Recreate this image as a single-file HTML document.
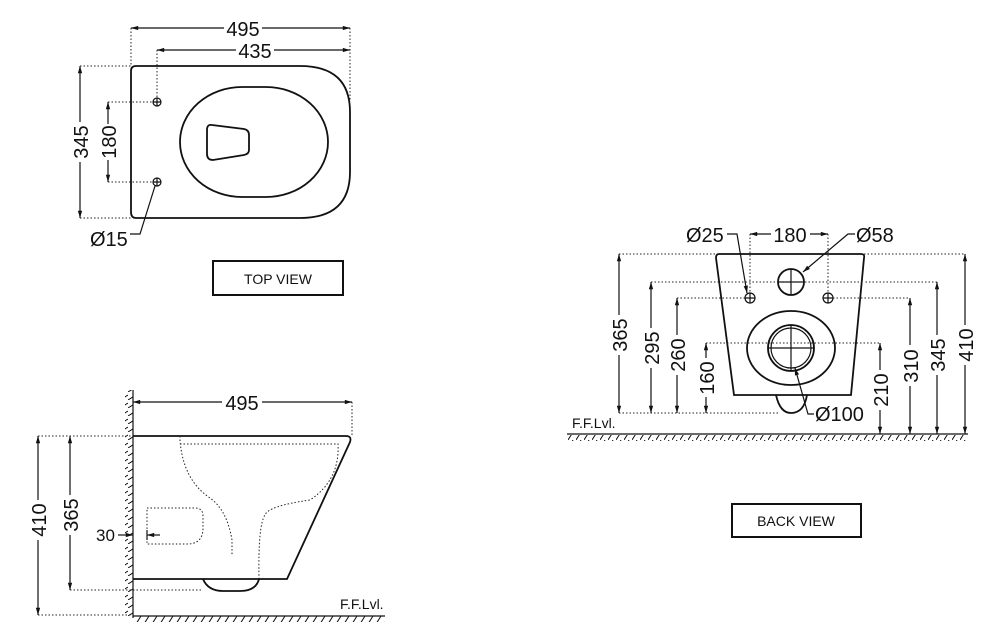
<!DOCTYPE html>
<html><head><meta charset="utf-8"><style>
html,body{margin:0;padding:0;background:#fff;}
svg{display:block;}
text{font-family:"Liberation Sans",sans-serif;fill:#111;}
.d{stroke:#222;stroke-width:1;stroke-dasharray:1.5 2;fill:none;}
.l{stroke:#111;stroke-width:1.2;fill:none;}
.o{stroke:#111;stroke-width:1.8;fill:none;}
.n{font-size:20px;}
</style></head><body>
<svg width="1000" height="631" viewBox="0 0 1000 631" xmlns="http://www.w3.org/2000/svg">
<defs>
<marker id="a" viewBox="0 0 10 10" refX="10" refY="5" markerWidth="8" markerHeight="6" orient="auto-start-reverse"><path d="M0,2 L10,5 L0,8z" fill="#111"/></marker>
<pattern id="hf" width="8" height="8" patternUnits="userSpaceOnUse"><path d="M0,8 L5,0" stroke="#111" stroke-width="1"/></pattern>
<pattern id="hw" width="8" height="8" patternUnits="userSpaceOnUse"><path d="M0,8 L8,3" stroke="#111" stroke-width="1"/></pattern>
</defs>

<!-- TOP VIEW -->
<path class="o" d="M136,66 H300 Q350,66 350,112 V172 Q350,218 300,218 H136 Q131,218 131,212 V71 Q131,66 136,66Z"/>
<rect class="o" x="180" y="87" width="148" height="110" rx="62" ry="55"/>
<path class="o" d="M212,125 L244,129 Q249,130 249,135 V150 Q249,154 244,155 L213,160 Q207,160 207,154 V130 Q207,124 212,125Z"/>
<circle class="l" cx="157" cy="102" r="4"/><path class="l" d="M153,102h8M157,98v8"/>
<circle class="l" cx="157" cy="182" r="4"/><path class="l" d="M153,182h8M157,178v8"/>
<path class="d" d="M131,28V66M350,28V100M157,50V98M80,66H131M80,218H131M108,102H153M108,182H153"/>
<path class="l" d="M131,28H224M262,28H350" marker-start="url(#a)" marker-end="url(#a)"/>
<text class="n" x="243" y="36" text-anchor="middle">495</text>
<path class="l" d="M157,50H236M274,50H350" marker-start="url(#a)" marker-end="url(#a)"/>
<text class="n" x="255" y="58" text-anchor="middle">435</text>
<path class="l" d="M80,66V122M80,162V218" marker-start="url(#a)" marker-end="url(#a)"/>
<text class="n" transform="translate(88,142) rotate(-90)" text-anchor="middle">345</text>
<path class="l" d="M108,102V124M108,160V182" marker-start="url(#a)" marker-end="url(#a)"/>
<text class="n" transform="translate(116,142) rotate(-90)" text-anchor="middle">180</text>
<path class="l" d="M155,186L140,234H130"/>
<text class="n" x="90" y="246">Ø15</text>
<rect x="213" y="261" width="130" height="34" fill="none" stroke="#111" stroke-width="2"/>
<text x="278" y="284" font-size="14" text-anchor="middle">TOP VIEW</text>

<!-- SIDE VIEW -->
<rect x="125" y="390" width="8" height="228" fill="url(#hw)"/>
<path class="l" d="M133,390V618"/>
<rect x="133" y="616" width="252" height="6" fill="url(#hf)"/>
<path class="l" d="M133,616H385"/>
<path class="o" d="M133,436H346Q352,436 350,442L287,579H133"/>
<path class="o" d="M203,579Q208,591 223,591H240Q256,591 259,579"/>
<path class="d" d="M180,436V440Q183,480 210,498Q227,510 232,540V556"/>
<path class="d" d="M180,444H338Q340,480 310,500Q268,506 265,515Q258,525 259,579"/>
<path class="d" d="M147,508H195Q203,508 203,516V528Q203,545 185,544H147V508"/>
<path class="d" d="M352,402V436M38,436H133M70,590H203M38,615H133"/>
<path class="l" d="M133,402H222M262,402H352" marker-start="url(#a)" marker-end="url(#a)"/>
<text class="n" x="242" y="410" text-anchor="middle">495</text>
<path class="l" d="M38,436V500M38,540V615" marker-start="url(#a)" marker-end="url(#a)"/>
<text class="n" transform="translate(46,520) rotate(-90)" text-anchor="middle">410</text>
<path class="l" d="M70,436V495M70,535V590" marker-start="url(#a)" marker-end="url(#a)"/>
<text class="n" transform="translate(78,515) rotate(-90)" text-anchor="middle">365</text>
<text x="96" y="541" font-size="17">30</text>
<path class="l" d="M118,535H133" marker-end="url(#a)"/>
<path class="l" d="M160,535H147" marker-end="url(#a)"/>
<path class="l" d="M147,530V540"/>
<text x="340" y="609" font-size="14">F.F.Lvl.</text>

<!-- BACK VIEW -->
<path class="o" d="M719,254H861Q865,254 864,258L851,395H734L716,258Q716,254 719,254Z"/>
<path class="o" d="M776,395Q780,413 791,413Q804,413 807,395"/>
<circle class="o" cx="791" cy="282" r="13"/><path class="l" d="M778,282h26M791,269v26"/>
<circle class="l" cx="750" cy="298" r="5"/><path class="l" d="M745,298h10M750,293v10"/>
<circle class="l" cx="828" cy="298" r="5"/><path class="l" d="M823,298h10M828,293v10"/>
<ellipse class="o" cx="791" cy="348" rx="44" ry="37"/>
<circle class="o" cx="791" cy="348" r="23"/><circle class="l" cx="791" cy="348" r="20"/>
<path class="l" d="M768,348h46M791,325v46"/>
<rect x="567" y="435" width="401" height="6" fill="url(#hf)"/>
<path class="l" d="M567,434H968"/>
<text x="572" y="428" font-size="14">F.F.Lvl.</text>
<path class="d" d="M619,254H716M864,254H965M651,282H864M937,282H864M677,298H745M833,298H910M706,343H880M619,413H780M750,234V293M828,234V293"/>
<path class="l" d="M619,254V315M619,355V413" marker-start="url(#a)" marker-end="url(#a)"/>
<text class="n" transform="translate(627,335) rotate(-90)" text-anchor="middle">365</text>
<path class="l" d="M651,282V328M651,368V413" marker-start="url(#a)" marker-end="url(#a)"/>
<text class="n" transform="translate(659,348) rotate(-90)" text-anchor="middle">295</text>
<path class="l" d="M677,298V335M677,375V413" marker-start="url(#a)" marker-end="url(#a)"/>
<text class="n" transform="translate(685,355) rotate(-90)" text-anchor="middle">260</text>
<path class="l" d="M706,343V358M706,397V413" marker-start="url(#a)" marker-end="url(#a)"/>
<text class="n" transform="translate(714,378) rotate(-90)" text-anchor="middle">160</text>
<path class="l" d="M880,343V370M880,410V434" marker-start="url(#a)" marker-end="url(#a)"/>
<text class="n" transform="translate(888,390) rotate(-90)" text-anchor="middle">210</text>
<path class="l" d="M910,298V345M910,386V434" marker-start="url(#a)" marker-end="url(#a)"/>
<text class="n" transform="translate(918,366) rotate(-90)" text-anchor="middle">310</text>
<path class="l" d="M937,282V335M937,375V434" marker-start="url(#a)" marker-end="url(#a)"/>
<text class="n" transform="translate(945,355) rotate(-90)" text-anchor="middle">345</text>
<path class="l" d="M965,254V325M965,365V434" marker-start="url(#a)" marker-end="url(#a)"/>
<text class="n" transform="translate(973,345) rotate(-90)" text-anchor="middle">410</text>
<path class="l" d="M750,234H771M810,234H828" marker-start="url(#a)" marker-end="url(#a)"/>
<text class="n" x="790" y="242" text-anchor="middle">180</text>
<text class="n" x="686" y="242">Ø25</text>
<path class="l" d="M727,234H737L747,293" marker-end="url(#a)"/>
<text class="n" x="856" y="242">Ø58</text>
<path class="l" d="M855,234H848L803,272" marker-end="url(#a)"/>
<text class="n" x="815" y="421">Ø100</text>
<path class="l" d="M814,414H808L795,368" marker-end="url(#a)"/>
<rect x="732" y="504" width="129" height="33" fill="none" stroke="#111" stroke-width="2"/>
<text x="796" y="526" font-size="14" text-anchor="middle">BACK VIEW</text>
</svg>
</body></html>
